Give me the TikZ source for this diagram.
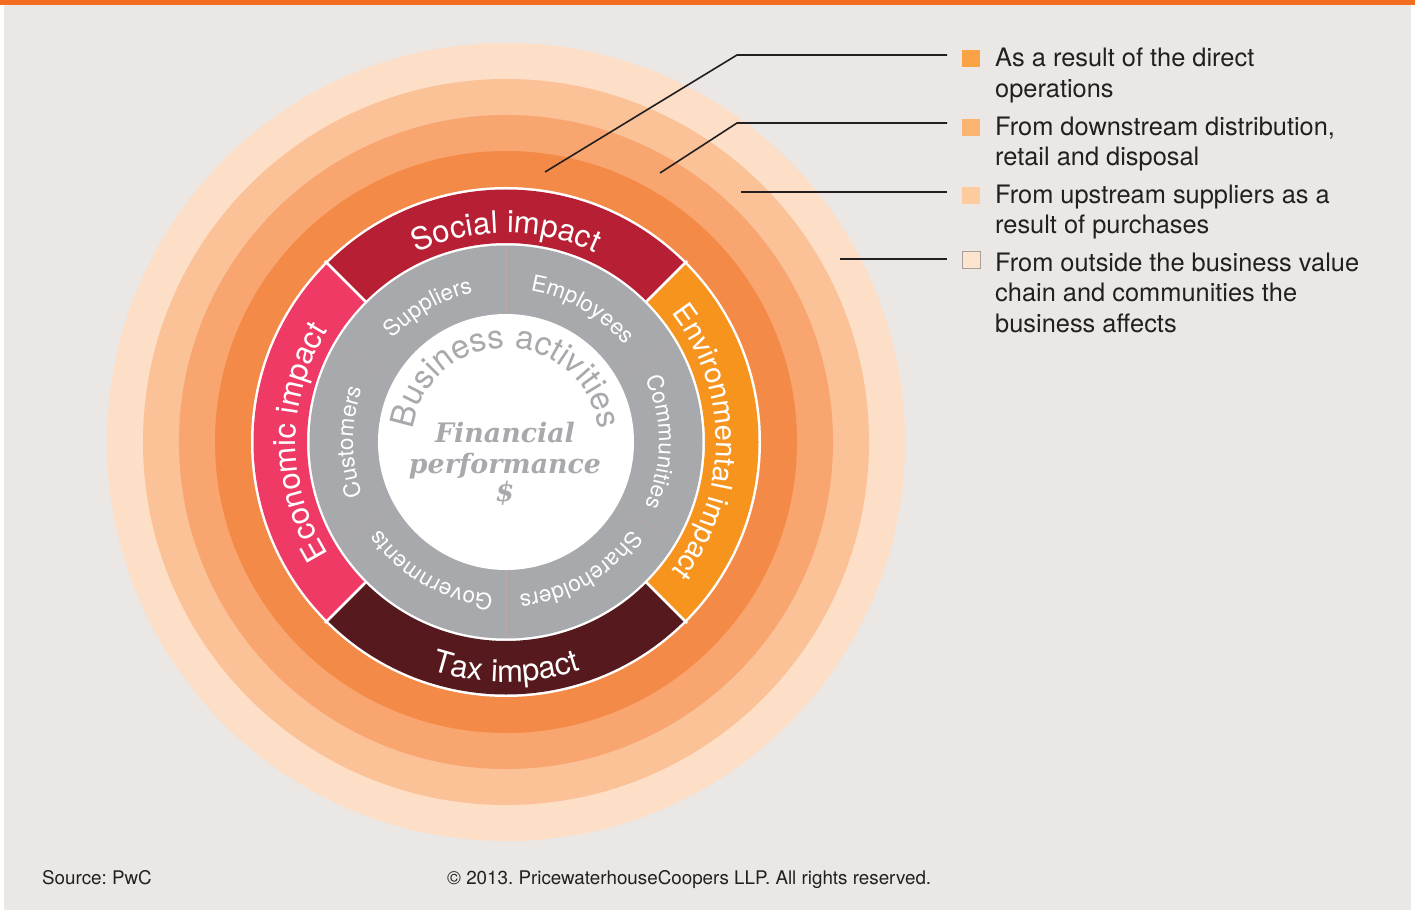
\documentclass[tikz,border=0pt]{standalone}
\usepackage{fontspec}
\setmainfont{TeX Gyre Heros}
\newfontfamily\heros{TeX Gyre Heros}
\newfontfamily\serifbi{DejaVu Serif}
\usetikzlibrary{decorations.text}
\frenchspacing
\definecolor{bg}{RGB}{235,231,228}
\definecolor{topbar}{RGB}{243,108,33}
\definecolor{ringA}{RGB}{253,222,198}
\definecolor{ringB}{RGB}{251,193,151}
\definecolor{ringC}{RGB}{248,165,111}
\definecolor{ringD}{RGB}{244,138,71}
\definecolor{social}{RGB}{183,31,52}
\definecolor{envir}{RGB}{247,148,30}
\definecolor{taxc}{RGB}{86,26,30}
\definecolor{econ}{RGB}{238,58,100}
\definecolor{grayring}{RGB}{167,169,172}
\definecolor{divc}{RGB}{190,168,162}
\definecolor{legtext}{RGB}{35,31,32}
\definecolor{sqA}{RGB}{249,163,70}
\definecolor{sqB}{RGB}{251,181,112}
\definecolor{sqC}{RGB}{253,203,157}
\definecolor{sqD}{RGB}{253,228,204}
\definecolor{sqDborder}{RGB}{165,160,158}
\newcommand\ringfont{\heros\fontsize{31}{31}\selectfont}
\newcommand\envfont{\heros\fontsize{29}{29}\selectfont}
\newcommand\actfont{\heros\fontsize{22.5}{22.5}\selectfont}
\newcommand\busfont{\heros\fontsize{33}{33}\selectfont}
\newcommand\annsector[3]{\fill[#1] (#2:252.5) arc[start angle=#2, end angle=#3, radius=252.5] -- (#3:199) arc[start angle=#3, end angle=#2, radius=199] -- cycle;}
\begin{document}
\begin{tikzpicture}[x=1pt,y=1pt,
  ringtext/.style={decorate, decoration={text along path, text align=center, text color=white, text={#1}}},
  busytext/.style={decorate, decoration={text along path, text align=center, text color=grayring, text={#1}}},
  sepline/.style={white, line width=2.5},
  divline/.style={divc, line width=0.5},
  legline/.style={legtext, line width=1.6},
  legsq/.style={rectangle, inner sep=0pt, minimum width=18, minimum height=17},
  legfont/.style={anchor=base west, inner sep=0pt, text=legtext, font=\heros\fontsize{25.4}{30}\selectfont},
  footfont/.style={anchor=base west, inner sep=0pt, text=legtext, font=\heros\fontsize{18.8}{20}\selectfont},
  centertext/.style={anchor=base, inner sep=0pt, text=grayring, font=\serifbi\bfseries\itshape\fontsize{26.8}{30}\selectfont}
]
\useasboundingbox (-506,-468) rectangle (909,442);
\fill[white] (-506,-468) rectangle (909,442);
\fill[bg] (-502,-468) rectangle (905,437);
\fill[topbar] (-506,437) rectangle (909,442);

% rings
\coordinate (c) at (0,0);
\fill[ringA] (c) circle[radius=399];
\fill[ringB] (c) circle[radius=363];
\fill[ringC] (c) circle[radius=327];
\fill[ringD] (c) circle[radius=291];
\fill[white] (c) circle[radius=255];
\annsector{social}{45}{135}
\annsector{econ}{135}{225}
\annsector{taxc}{225}{315}
\annsector{envir}{-45}{45}
\foreach \a in {45,135,225,315} \draw[sepline] (\a:196) -- (\a:256);
\fill[grayring] (c) circle[radius=196.5];
\foreach \a in {30,90,150,210,270,330} \draw[divline] (\a:128) -- (\a:196);
\fill[white] (c) circle[radius=128];

% impact texts
\path[ringtext={|\ringfont|Social impact}] (150:209) arc[start angle=150, end angle=30, radius=209];
\path[ringtext={|\ringfont|Economic impact}] (240:210) arc[start angle=240, end angle=120, radius=210];
\path[ringtext={|\envfont|Environmental impact}] (60:210) arc[start angle=60, end angle=-60, radius=210];
\path[ringtext={|\ringfont|Tax impact}] (220:240) arc[start angle=220, end angle=320, radius=240];

% activity texts
\path[ringtext={|\actfont|Suppliers}] (170:153) arc[start angle=170, end angle=70, radius=153];
\path[ringtext={|\actfont|Employees}] (110:153) arc[start angle=110, end angle=10, radius=153];
\path[ringtext={|\actfont|Communities}] (50:153) arc[start angle=50, end angle=-50, radius=153];
\path[ringtext={|\actfont|Shareholders}] (-10:153) arc[start angle=-10, end angle=-110, radius=153];
\path[ringtext={|\actfont|Governments}] (-70:153) arc[start angle=-70, end angle=-170, radius=153];
\path[ringtext={|\actfont|Customers}] (230:153) arc[start angle=230, end angle=130, radius=153];

% business activities
\path[busytext={|\busfont|Business activities}] (200:94) arc[start angle=200, end angle=-20, radius=94];

% centre
\node[centertext] (fin) at (-1,0) {Financial};
\node[centertext] (perf) at (-1,-31) {performance};
\node[centertext] (dollar) at (-1,-59) {\$};

% legend connectors
\coordinate (l1s) at (39,270);
\coordinate (l1b) at (231,387);
\coordinate (l1e) at (441,387);
\coordinate (l2s) at (154,269);
\coordinate (l2b) at (231,319);
\coordinate (l2e) at (441,319);
\coordinate (l3s) at (235,250);
\coordinate (l3e) at (441,250);
\coordinate (l4s) at (334,183);
\coordinate (l4e) at (441,183);
\draw[legline] (l1s) -- (l1b) -- (l1e);
\draw[legline] (l2s) -- (l2b) -- (l2e);
\draw[legline] (l3s) -- (l3e);
\draw[legline] (l4s) -- (l4e);

% legend squares
\node[legsq, fill=sqA] (sq1) at (465,383.5) {};
\node[legsq, fill=sqB] (sq2) at (465,314.5) {};
\node[legsq, fill=sqC] (sq3) at (465,246.5) {};
\node[legsq, fill=sqD, draw=sqDborder, line width=0.8] (sq4) at (465,182.5) {};

% legend texts
\node[legfont] (t1a) at (489,375) {As a result of the direct};
\node[legfont] (t1b) at (489,344) {operations};
\node[legfont] (t2a) at (489,306) {From downstream distribution,};
\node[legfont] (t2b) at (489,276) {retail and disposal};
\node[legfont] (t3a) at (489,238) {From upstream suppliers as a};
\node[legfont] (t3b) at (489,208) {result of purchases};
\node[legfont] (t4a) at (489,170) {From outside the business value};
\node[legfont] (t4b) at (489,140) {chain and communities the};
\node[legfont] (t4c) at (489,110) {business affects};

% footer
\node[footfont] (src) at (-464,-442) {Source: PwC};
\node[footfont] (copy) at (-59,-442) {© 2013. PricewaterhouseCoopers LLP. All rights reserved.};
\end{tikzpicture}
\end{document}
